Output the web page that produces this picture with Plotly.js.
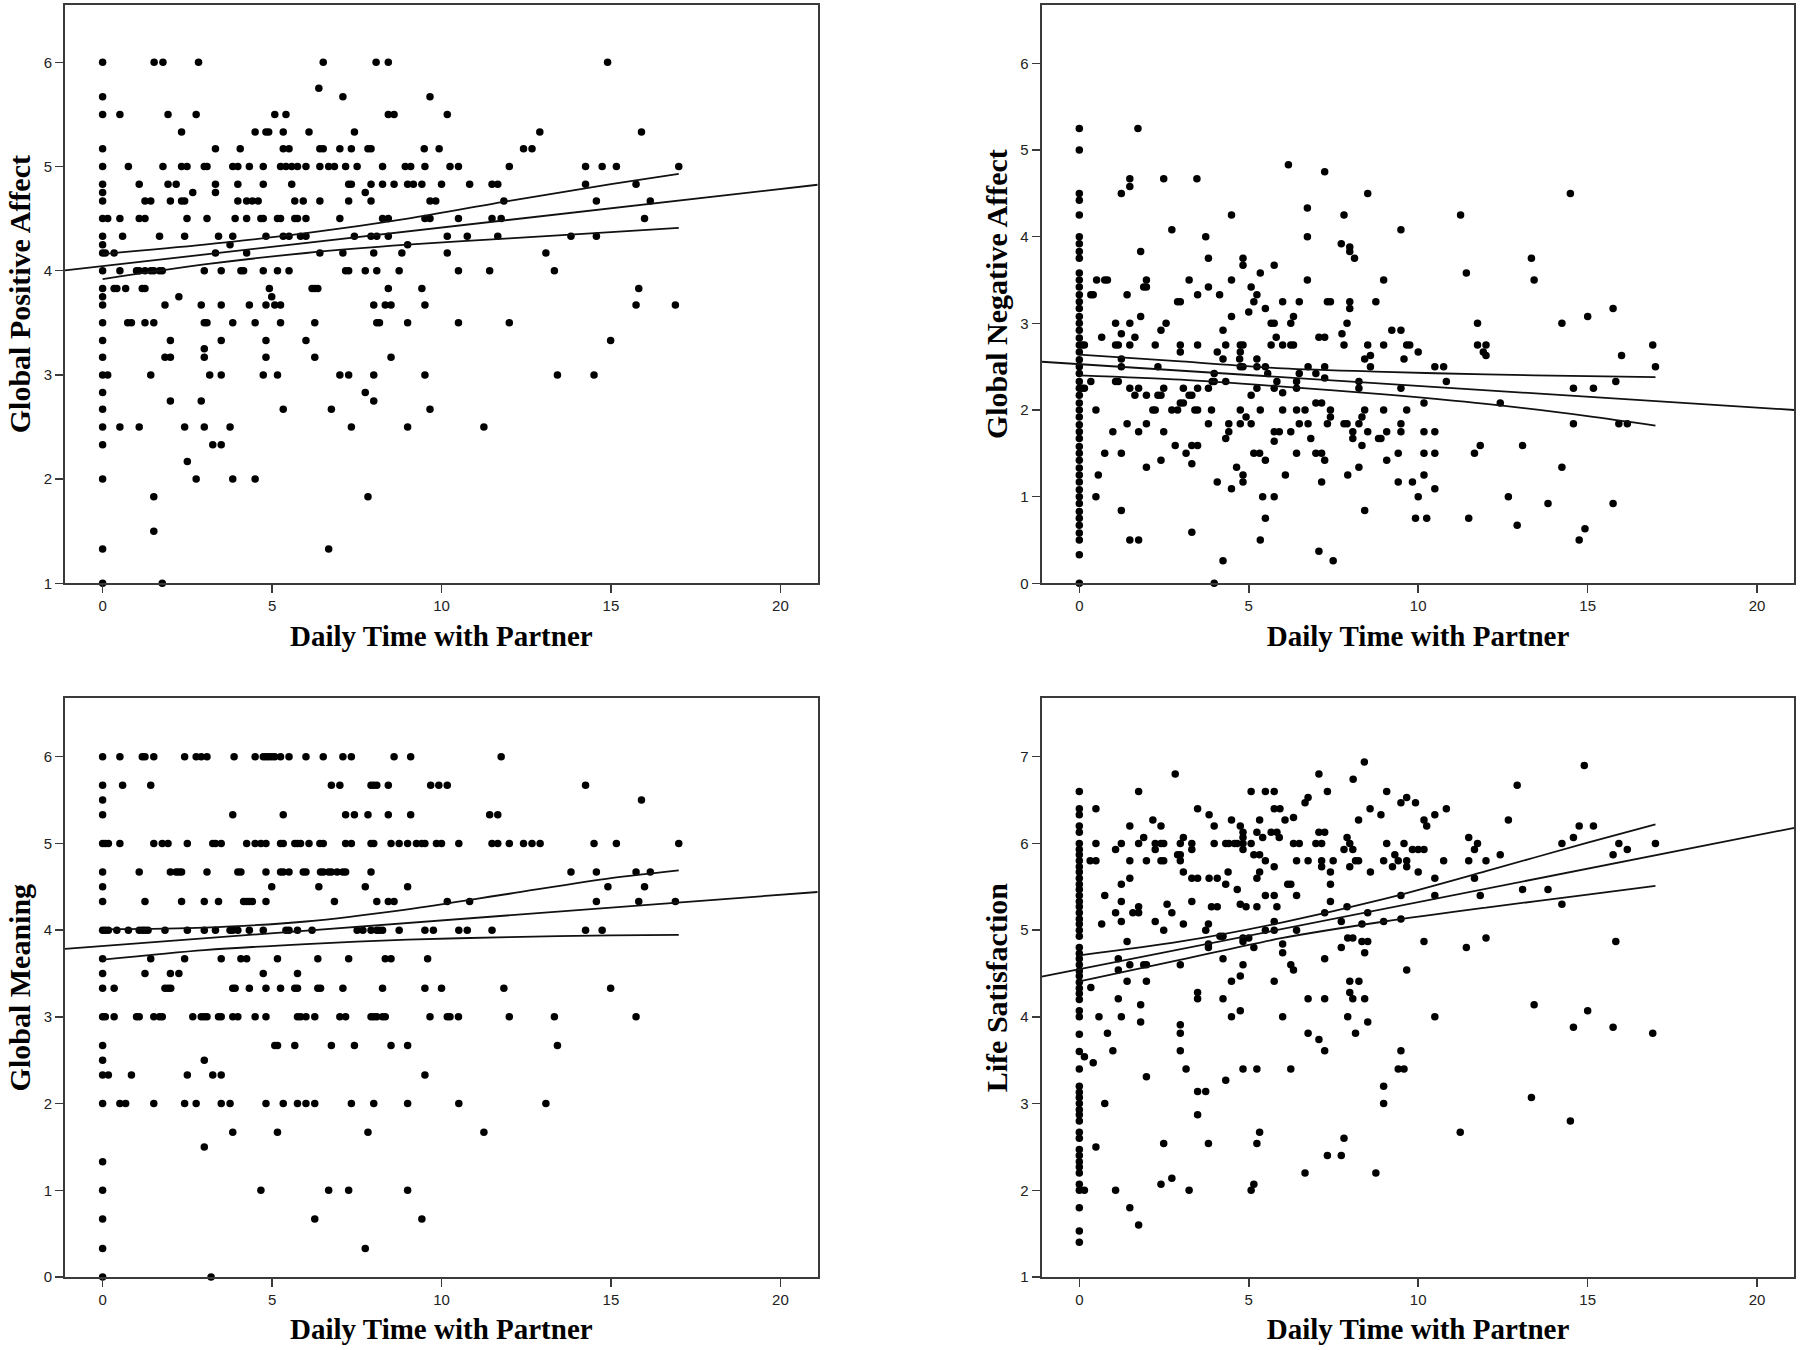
<!DOCTYPE html>
<html>
<head>
<meta charset="utf-8">
<script src="https://cdn.plot.ly/plotly-3.0.1.min.js"></script>
<style>html,body{margin:0;padding:0;background:#fff;}#chart{width:1800px;height:1350px;}</style>
</head>
<body>
<div id="chart"></div>
<script>
// ---------- Data: rows of [y value, [x values]] ----------
const positiveRows = [
  [6, [0,1.52,1.78,2.83,6.51,8.07,8.43,14.9]],
  [5.75, [6.38]],
  [5.67, [0,7.09,9.66]],
  [5.5, [0,0.51,1.93,2.76,5.08,5.41,8.43,8.6,10.17]],
  [5.33, [2.33,4.5,4.82,4.9,5.33,6.09,7.43,12.9,15.9]],
  [5.17, [0,3.33,4.06,5.33,5.5,6.41,6.51,7.0,7.34,7.83,7.92,9.49,9.93,12.42,12.67]],
  [5, [0,0.76,1.78,2.33,2.49,3.0,3.08,3.84,3.99,4.33,4.74,5.25,5.41,5.58,5.75,6.0,6.41,6.67,6.84,7.17,7.51,8.26,8.93,9.09,9.51,10.25,10.5,12.0,14.25,14.74,15.16,17.0]],
  [4.83, [0,1.08,1.93,2.17,3.33,3.99,4.74,5.58,7.26,7.34,7.92,8.26,8.6,9.0,9.17,9.42,10.0,10.83,11.49,11.66,14.25,15.74]],
  [4.75, [0,2.66,3.33,7.75]],
  [4.67, [0,1.25,1.42,2.0,2.33,2.42,3.99,4.25,4.42,4.59,5.67,5.92,6.41,7.26,7.92,9.66,9.83,11.84,14.57,16.16]],
  [4.5, [0,0.15,0.51,1.08,1.25,2.49,3.08,3.91,4.25,4.67,4.74,5.16,5.25,5.67,5.75,6.0,7.0,8.26,8.43,9.51,9.66,10.5,11.49,11.76,15.99]],
  [4.33, [0,0.59,1.68,2.42,3.42,3.84,4.82,5.33,5.5,5.84,6.0,7.43,7.92,8.09,8.43,10.17,10.76,11.66,13.82,14.57]],
  [4.25, [0,3.76,9.0]],
  [4.17, [0,0.08,0.34,3.33,4.25,6.41,7.09,8.0,8.83,10.17,13.08]],
  [4, [0,0.51,1.0,1.08,1.25,1.42,1.51,1.68,1.76,3.0,3.5,4.08,4.16,4.74,5.16,5.5,7.17,7.26,7.75,8.09,8.75,10.5,11.42,13.33]],
  [3.83, [0,0.34,0.42,0.68,1.17,1.25,4.92,6.18,6.26,6.35,8.43,9.42,15.82]],
  [3.75, [0,2.25,4.99]],
  [3.67, [0,1.84,2.91,3.5,4.33,4.82,5.08,5.25,8.0,8.34,8.51,9.51,15.74,16.9]],
  [3.5, [0,0.74,0.85,1.25,1.51,3.0,3.08,3.84,4.5,5.25,6.26,8.09,8.17,9.0,10.5,12.0]],
  [3.33, [0,2.0,3.5,4.82,6.0,14.99]],
  [3.25, [3.0]],
  [3.17, [0,1.84,2.0,3.0,4.82,6.26,8.51]],
  [3, [0,0.15,1.42,3.16,3.5,4.74,5.16,7.0,7.26,8.0,9.51,13.42,14.5]],
  [2.83, [0,7.75]],
  [2.75, [2.0,2.91,8.0]],
  [2.67, [0,5.33,6.75,9.66]],
  [2.5, [0,0.51,1.08,2.42,3.0,3.76,7.34,9.0,11.25]],
  [2.33, [0,3.25,3.5]],
  [2.17, [2.5]],
  [2, [0,2.76,3.84,4.5]],
  [1.83, [1.51,7.83]],
  [1.5, [1.51]],
  [1.33, [0,6.67]],
  [1, [0,1.76]]
];

const negativeZeroColumn = [0,0.33,0.5,0.58,0.67,0.75,0.83,0.92,1.0,1.08,1.17,1.25,1.33,1.42,1.5,1.58,1.67,1.75,1.83,1.92,2.0,2.08,2.17,2.25,2.33,2.42,2.5,2.58,2.67,2.75,2.83,2.92,3.0,3.08,3.17,3.25,3.33,3.42,3.5,3.58,3.75,3.83,3.92,4.0,4.25,4.42,4.5,5.0,5.25];
const negativeRows = [
  [5.25, [1.73]],
  [4.83, [6.17]],
  [4.75, [7.24]],
  [4.67, [1.49,2.49,3.47]],
  [4.58, [1.49]],
  [4.5, [1.24,8.51,14.49]],
  [4.33, [6.73]],
  [4.25, [4.49,7.81,11.25]],
  [4.08, [2.73,9.49]],
  [4.0, [3.73,6.73]],
  [3.92, [7.73]],
  [3.88, [7.98]],
  [3.83, [1.81,7.98]],
  [3.75, [3.81,4.83,8.12,13.34]],
  [3.67, [4.83,5.75]],
  [3.58, [5.34,11.42]],
  [3.5, [0.51,0.75,0.83,1.98,3.24,4.49,6.73,8.98,13.42]],
  [3.42, [1.9,1.98,3.81,5.07]],
  [3.33, [0.34,0.41,1.41,3.49,4.14,5.24]],
  [3.25, [2.9,2.98,5.15,6.0,6.49,7.32,7.41,7.98,8.75]],
  [3.17, [5.49,7.98,15.75]],
  [3.13, [5.0]],
  [3.08, [1.81,4.49,6.32,15.0]],
  [3.0, [1.07,1.49,2.56,5.66,5.75,6.24,7.9,11.75,14.24]],
  [2.92, [2.41,4.24,9.22,9.49]],
  [2.88, [1.24,7.75]],
  [2.84, [0.66,1.64,5.81,7.07,7.24]],
  [2.75, [0.08,0.15,1.07,1.15,1.49,2.24,2.98,3.49,4.32,4.75,4.83,5.66,6.0,6.24,6.32,7.81,8.51,8.98,9.66,9.75,11.75,12.0,16.92]],
  [2.67, [2.98,4.07,4.75,10.0,11.92]],
  [2.63, [8.59,12.0,16.0]],
  [2.59, [1.24,4.24,4.73,5.24,8.42,9.58]],
  [2.5, [1.24,2.32,4.75,4.83,5.24,5.49,6.75,7.24,8.59,10.49,10.75,17.0]],
  [2.42, [3.98,5.56,6.49,6.98]],
  [2.37, [7.24]],
  [2.33, [0.34,1.07,1.15,3.92,3.98,4.32,5.83,6.41,8.25,10.83,15.83]],
  [2.25, [0.08,0.15,1.49,1.75,2.49,3.07,3.49,3.81,5.24,5.75,6.41,8.25,9.49,14.58,15.17]],
  [2.2, [6.0]],
  [2.17, [1.64,1.98,2.32,2.41,3.24,3.32,5.07]],
  [2.08, [2.98,3.07,6.98,7.15,10.17,12.42]],
  [2.0, [0.49,2.17,2.24,2.73,2.9,3.41,3.49,3.9,4.75,5.34,6.0,6.41,6.66,7.41,8.42,8.98,9.66]],
  [1.92, [4.92,7.41,8.34]],
  [1.84, [1.41,1.98,3.81,4.41,4.75,5.07,6.49,6.75,7.32,7.81,7.9,8.25,9.49,14.58,15.92,16.17]],
  [1.75, [0.99,1.75,2.49,4.41,5.75,5.9,6.24,8.07,8.51,9.07,9.49,10.17,10.49]],
  [1.67, [4.32,6.83,8.07,8.83,8.9]],
  [1.64, [5.75]],
  [1.59, [2.83,3.32,3.49,8.34,11.83,13.08]],
  [1.5, [0.75,1.24,3.15,5.15,5.32,6.41,6.98,7.15,9.41,10.17,10.49,11.66]],
  [1.42, [2.41,5.49,7.24,9.07]],
  [1.38, [3.32]],
  [1.34, [1.98,4.64,8.25,14.24]],
  [1.25, [0.56,4.83,6.08,7.92,10.17]],
  [1.17, [4.07,4.83,7.15,9.41,9.83]],
  [1.09, [4.49,10.49]],
  [1.0, [0.49,5.41,5.75,10.0,12.66]],
  [0.92, [13.83,15.75]],
  [0.84, [1.24,8.42]],
  [0.75, [5.49,9.92,10.25,11.49]],
  [0.67, [12.92]],
  [0.63, [14.92]],
  [0.59, [3.32]],
  [0.5, [1.49,1.75,5.34,14.75]],
  [0.37, [7.07]],
  [0.26, [4.24,7.49]],
  [0.0, [3.98]]
];

const meaningRows = [
  [6, [0,0.51,1.17,1.25,1.51,2.42,2.76,2.91,3.08,3.88,4.5,4.74,4.82,4.9,4.99,5.08,5.25,5.5,6.0,6.51,7.09,7.34,8.6,9.09,11.76]],
  [5.67, [0,0.59,1.42,6.75,7.0,7.92,8.0,8.09,8.43,9.68,9.92,10.17,14.25]],
  [5.5, [0,15.9]],
  [5.33, [0,3.84,5.33,7.17,7.43,7.83,8.43,9.09,11.42,11.66]],
  [5, [0,0.08,0.17,0.51,1.51,1.76,1.93,2.5,3.25,3.33,3.5,4.25,4.5,4.67,4.82,5.25,5.33,5.67,5.75,5.84,6.09,6.41,6.51,7.17,7.34,7.92,8.0,8.51,8.75,9.0,9.26,9.42,9.51,9.85,10.0,10.51,11.49,11.66,12.0,12.42,12.67,12.91,14.5,15.16,17.0]],
  [4.67, [0,1.08,2.0,2.17,2.25,2.33,3.08,3.99,4.08,4.82,5.25,5.33,5.5,5.92,6.0,6.43,6.51,6.67,6.75,6.92,7.09,7.17,7.92,13.82,14.57,15.74,16.16]],
  [4.5, [0,4.99,6.38,7.75,9.0,14.91,15.99]],
  [4.33, [0,1.25,2.33,3.0,3.42,4.16,4.25,4.33,4.42,4.82,6.84,8.09,8.43,8.6,10.17,10.83,14.57,15.82,16.9]],
  [4, [0,0.08,0.17,0.42,0.76,1.08,1.17,1.25,1.34,1.84,2.5,3.0,3.33,3.76,3.84,3.99,4.33,4.74,5.41,5.5,5.75,6.18,7.51,7.68,7.92,8.09,8.17,8.26,8.75,9.51,9.76,10.51,10.76,11.49,14.25,14.74]],
  [3.67, [0,1.42,2.42,3.5,4.08,4.25,5.16,6.35,7.26,8.34,8.51,9.59]],
  [3.5, [0,1.25,2.0,2.25,4.74,5.75]],
  [3.33, [0,0.34,1.84,1.93,2.01,3.84,3.91,4.33,4.82,5.25,5.67,5.75,6.35,6.43,7.09,8.26,9.51,10.0,11.84,14.99]],
  [3, [0,0.08,0.34,1.0,1.08,1.51,1.68,1.76,2.66,2.91,3.0,3.08,3.42,3.5,3.84,3.99,4.5,4.82,5.75,5.84,6.0,6.26,7.0,7.17,7.92,8.0,8.09,8.26,8.34,9.66,10.17,10.25,10.5,12.0,13.33,15.74]],
  [2.67, [0,5.08,5.16,5.67,6.75,7.43,8.51,9.0,13.42]],
  [2.5, [0,3.0]],
  [2.33, [0,0.17,0.85,2.5,3.25,3.5,9.51]],
  [2, [0,0.51,0.68,1.51,2.42,2.76,3.5,3.76,4.82,5.33,5.75,6.0,6.26,7.34,8.0,9.0,10.51,13.08]],
  [1.67, [3.84,5.16,7.83,11.25]],
  [1.5, [3.0]],
  [1.33, [0]],
  [1, [0,4.67,6.67,7.26,9.0]],
  [0.67, [0,6.26,9.42]],
  [0.33, [0,7.75]],
  [0, [0,3.2]]
];

const satisfactionZeroColumn = [1.4,1.53,1.8,2.0,2.07,2.2,2.27,2.33,2.4,2.47,2.6,2.67,2.8,2.87,2.93,3.0,3.07,3.13,3.2,3.4,3.6,3.8,4.0,4.07,4.2,4.27,4.33,4.4,4.47,4.53,4.6,4.67,4.73,4.8,4.93,5.0,5.07,5.13,5.2,5.27,5.33,5.4,5.47,5.53,5.6,5.67,5.73,5.8,5.87,5.93,6.0,6.13,6.2,6.33,6.4,6.6];
const satisfactionRows = [
  [6.94, [8.41]],
  [6.9, [14.9]],
  [6.8, [2.83,7.07]],
  [6.74, [8.08]],
  [6.67, [12.92]],
  [6.6, [1.75,5.07,5.49,5.75,7.32,9.07]],
  [6.53, [6.75,9.66]],
  [6.47, [6.66,9.49,9.92]],
  [6.4, [0.49,3.49,5.75,5.92,8.58,10.83]],
  [6.33, [3.83,8.9,10.49]],
  [6.3, [6.32]],
  [6.27, [2.17,4.49,5.32,6.07,8.24,10.17,12.66]],
  [6.2, [1.49,2.41,3.98,4.75,10.25,14.75,15.17]],
  [6.13, [4.83,5.24,5.66,5.83,7.07,7.24]],
  [6.07, [1.9,3.07,4.83,5.41,5.9,7.9,11.49,14.58]],
  [6.0, [0.49,1.24,1.75,2.24,2.41,2.49,2.98,3.32,3.98,4.32,4.41,4.58,4.66,4.83,5.07,6.32,6.49,6.98,7.15,7.98,9.07,9.58,11.75,14.24,15.92,17.0]],
  [5.93, [1.07,2.24,3.32,4.83,7.81,8.07,9.83,10.0,10.17,11.66,16.17]],
  [5.87, [2.9,2.98,5.15,5.32,9.31,12.42,15.75]],
  [5.8, [0.32,0.49,1.49,1.98,2.41,2.49,2.98,5.49,6.41,6.75,7.15,7.49,8.15,8.24,8.98,9.41,9.66,10.75,11.49,12.0]],
  [5.73, [5.75,7.15,7.98,9.24,9.66]],
  [5.67, [3.07,4.39,5.32,7.41,8.59,10.0]],
  [5.6, [1.49,3.32,3.49,3.83,4.07,5.24,10.49,11.66]],
  [5.53, [1.24,4.32,6.15,6.24,7.41]],
  [5.47, [4.66,13.08,13.83]],
  [5.4, [0.75,5.49,5.75,6.41,9.49,10.49,11.83]],
  [5.33, [1.24,3.32,7.41]],
  [5.3, [2.59,4.75,14.24]],
  [5.27, [1.75,3.9,4.07,4.92,5.24,5.83,7.9]],
  [5.2, [1.07,1.58,1.75,2.73,7.24,8.51]],
  [5.13, [9.49]],
  [5.1, [1.24,2.24,5.75,7.73,8.98]],
  [5.07, [0.66,3.07,3.81,8.34]],
  [5.0, [2.49,3.73,5.49,5.75,6.41]],
  [4.93, [4.15,4.24]],
  [4.91, [4.83,5.0,7.92,8.07,12.0]],
  [4.87, [1.41,4.83,8.34,8.51,10.17,15.83]],
  [4.84, [3.81,6.0]],
  [4.8, [3.81,5.15,7.73,11.42]],
  [4.74, [6.0,8.42]],
  [4.67, [1.15,4.24,7.24]],
  [4.6, [1.49,1.9,1.98,2.98,4.83,6.24]],
  [4.54, [1.15,6.32,9.66]],
  [4.47, [4.75]],
  [4.41, [1.41,1.98,4.49,5.75,7.98,8.25]],
  [4.34, [0.34]],
  [4.28, [3.49,7.98]],
  [4.21, [1.15,3.49,4.24,6.75,7.24,8.07,8.42]],
  [4.14, [1.81,13.42]],
  [4.07, [4.75,15.0]],
  [4.0, [0.58,1.24,4.49,6.0,7.92,10.49]],
  [3.94, [1.81,8.51]],
  [3.91, [2.98]],
  [3.88, [14.58,15.75]],
  [3.81, [0.83,2.98,6.75,8.15,16.92]],
  [3.74, [7.07]],
  [3.61, [0.99,2.98,7.24,9.49]],
  [3.54, [0.15]],
  [3.47, [0.41]],
  [3.4, [3.15,4.83,5.24,6.24,9.41,9.58]],
  [3.31, [1.98]],
  [3.27, [4.32]],
  [3.2, [8.98]],
  [3.14, [3.49,3.73]],
  [3.07, [13.34]],
  [3.0, [0.75,8.98]],
  [2.87, [3.49]],
  [2.8, [14.49]],
  [2.67, [5.32,11.24]],
  [2.6, [7.81]],
  [2.54, [2.49,3.81,5.24]],
  [2.5, [0.49]],
  [2.4, [7.32,7.73]],
  [2.2, [6.66,8.75]],
  [2.14, [2.73]],
  [2.07, [2.41,5.15]],
  [2.0, [0.15,1.07,3.24,5.07]],
  [1.8, [1.49]],
  [1.6, [1.75]]
];

// Fit lines (read at the axis ends) and 95% confidence bands (read along x)
const fitX = [-1.11, 21.1];
const positiveFit = [4.003, 4.825];
const negativeFit = [2.557, 2.0];
const meaningFit = [3.784, 4.44];
const satisfactionFit = [4.465, 6.18];

const bandX = [0, 3, 6, 9, 12, 15, 17];
const positiveUpper = [4.16, 4.25, 4.36, 4.50, 4.67, 4.83, 4.93];
const positiveLower = [3.92, 4.06, 4.17, 4.25, 4.31, 4.37, 4.41];
const negativeUpper = [2.64, 2.56, 2.48, 2.44, 2.41, 2.39, 2.38];
const negativeLower = [2.40, 2.35, 2.27, 2.18, 2.07, 1.93, 1.82];
const meaningUpper = [4.01, 4.03, 4.10, 4.24, 4.42, 4.60, 4.69];
const meaningLower = [3.66, 3.77, 3.84, 3.89, 3.92, 3.94, 3.945];
const satisfactionUpper = [4.71, 4.87, 5.09, 5.36, 5.68, 6.01, 6.22];
const satisfactionLower = [4.41, 4.66, 4.91, 5.10, 5.26, 5.41, 5.51];

const xTitle = 'Daily Time with Partner';
const yTitles = ['Global Positive Affect', 'Global Negative Affect', 'Global Meaning', 'Life Satisfaction'];
const xTicks = [0, 5, 10, 15, 20];

// ---------- Build traces ----------
function flatten(rows, zeroCol) {
  const xs = [], ys = [];
  if (zeroCol) zeroCol.forEach(y => { xs.push(0); ys.push(y); });
  rows.forEach(([y, list]) => list.forEach(x => { xs.push(x); ys.push(y); }));
  return {xs, ys};
}

const panels = [
  {rows: positiveRows, zero: null, fit: positiveFit, up: positiveUpper, lo: positiveLower},
  {rows: negativeRows, zero: negativeZeroColumn, fit: negativeFit, up: negativeUpper, lo: negativeLower},
  {rows: meaningRows, zero: null, fit: meaningFit, up: meaningUpper, lo: meaningLower},
  {rows: satisfactionRows, zero: satisfactionZeroColumn, fit: satisfactionFit, up: satisfactionUpper, lo: satisfactionLower}
];

const traces = [];
panels.forEach((p, i) => {
  const sfx = i === 0 ? '' : String(i + 1);
  const xa = 'x' + sfx, ya = 'y' + sfx;
  const pts = flatten(p.rows, p.zero);
  traces.push({type: 'scatter', mode: 'markers', x: pts.xs, y: pts.ys, xaxis: xa, yaxis: ya,
    marker: {color: '#000', size: 7.5, line: {width: 0}}, hoverinfo: 'x+y', cliponaxis: false});
  const lineStyle = {color: '#111', width: 1.8};
  traces.push({type: 'scatter', mode: 'lines', x: fitX, y: p.fit, xaxis: xa, yaxis: ya, line: lineStyle});
  traces.push({type: 'scatter', mode: 'lines', x: bandX, y: p.up, xaxis: xa, yaxis: ya, line: Object.assign({shape: 'spline', smoothing: 0.8}, lineStyle)});
  traces.push({type: 'scatter', mode: 'lines', x: bandX, y: p.lo, xaxis: xa, yaxis: ya, line: Object.assign({shape: 'spline', smoothing: 0.8}, lineStyle)});
});

// ---------- Layout ----------
const axisCommon = {
  showline: true, mirror: true, linecolor: '#3a3a3a', linewidth: 2,
  ticks: 'outside', ticklen: 8, tickwidth: 1.5, tickcolor: '#3a3a3a',
  showgrid: false, zeroline: false,
  tickfont: {family: 'Liberation Sans Narrow, Liberation Sans, Arial, sans-serif', size: 15, color: '#222'}
};
const xTitleFont = {family: 'Liberation Serif, Times New Roman, serif', size: 29, color: '#000', weight: 'bold'};
const yTitleFont = {family: 'Liberation Serif, Times New Roman, serif', size: 30, color: '#000', weight: 'bold'};

const xDomains = [[0.03611, 0.45428], [0.57872, 0.99689]];
const yDomains = [[0.56793, 0.99630], [0.05407, 0.48274]];
const yRanges = [[1, 6.55], [0, 6.674], [0, 6.674], [1, 7.674]];
const yTickSets = [[1,2,3,4,5,6], [0,1,2,3,4,5,6], [0,1,2,3,4,5,6], [1,2,3,4,5,6,7]];

const layout = {
  width: 1800, height: 1350,
  margin: {l: 0, r: 0, t: 0, b: 0},
  paper_bgcolor: '#fff', plot_bgcolor: '#fff',
  showlegend: false
};
for (let i = 0; i < 4; i++) {
  const sfx = i === 0 ? '' : String(i + 1);
  layout['xaxis' + sfx] = Object.assign({}, axisCommon, {
    domain: xDomains[i % 2], range: [-1.11, 21.1], tickvals: xTicks,
    anchor: 'y' + sfx,
    title: {text: xTitle, font: xTitleFont, standoff: 12}
  });
  layout['yaxis' + sfx] = Object.assign({}, axisCommon, {
    domain: yDomains[Math.floor(i / 2)], range: yRanges[i], tickvals: yTickSets[i],
    anchor: 'x' + sfx,
    title: {text: yTitles[i], font: yTitleFont, standoff: 4}
  });
}

Plotly.newPlot('chart', traces, layout, {staticPlot: true, displayModeBar: false});
</script>
</body>
</html>
